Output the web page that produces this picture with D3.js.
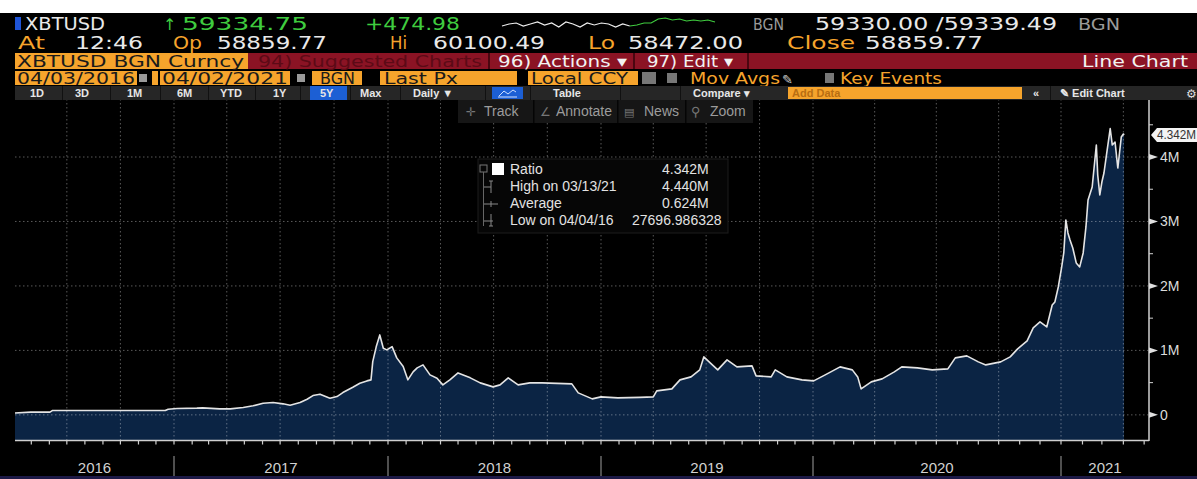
<!DOCTYPE html>
<html>
<head>
<meta charset="utf-8">
<script src="https://cdn.jsdelivr.net/npm/d3@7"></script>
<style>
body{margin:0;background:#000;overflow:hidden}
</style>
</head>
<body>
<div id="chart"></div>
<script>
//* data (ratio in millions)
var dates = ["2016-04-03","2016-04-30","2016-06-02","2016-06-06","2016-12-17","2016-12-22",
  "2017-01-06","2017-02-09","2017-02-19","2017-03-20","2017-04-07","2017-04-29","2017-05-16","2017-06-02","2017-06-19","2017-07-06","2017-07-18","2017-08-04","2017-08-16","2017-08-26","2017-09-07","2017-09-24","2017-10-06","2017-10-16","2017-11-02","2017-11-14","2017-11-26","2017-12-03","2017-12-06","2017-12-12","2017-12-18","2017-12-24","2017-12-30",
  "2018-01-08","2018-01-16","2018-01-27","2018-02-04","2018-02-13","2018-02-20","2018-03-02","2018-03-14","2018-03-26","2018-04-05","2018-04-17","2018-05-01","2018-05-22","2018-06-08","2018-06-30","2018-07-12","2018-07-26","2018-08-12","2018-09-01","2018-09-22","2018-11-12","2018-11-23","2018-12-17",
  "2019-01-01","2019-01-30","2019-03-09","2019-04-01","2019-04-07","2019-05-03","2019-05-17","2019-06-05","2019-06-20","2019-06-27","2019-07-08","2019-07-21","2019-08-06","2019-08-23","2019-09-18","2019-09-25","2019-10-21","2019-10-28","2019-11-17","2019-12-13",
  "2020-01-02","2020-01-19","2020-02-10","2020-02-28","2020-03-07","2020-03-12","2020-03-27","2020-04-12","2020-04-30","2020-05-11","2020-06-03","2020-06-25","2020-07-18","2020-07-29","2020-08-15","2020-09-01","2020-09-12","2020-10-04","2020-10-18","2020-10-29","2020-11-12","2020-11-21","2020-12-01","2020-12-11","2020-12-19","2020-12-23","2020-12-28",
  "2021-01-02","2021-01-05","2021-01-08","2021-01-11","2021-01-14","2021-01-18","2021-01-23","2021-01-28","2021-02-02","2021-02-06","2021-02-09","2021-02-15","2021-02-21","2021-02-23","2021-02-26","2021-03-01","2021-03-04","2021-03-08","2021-03-13","2021-03-16","2021-03-20","2021-03-24","2021-03-29","2021-04-01","2021-04-02"]
var ratio = [0.028,0.042,0.042,0.067,0.067,0.088,
  0.098,0.104,0.109,0.093,0.093,0.113,0.140,0.181,0.191,0.171,0.150,0.191,0.243,0.299,0.321,0.259,0.284,0.346,0.429,0.491,0.527,0.543,0.826,1.059,1.240,1.034,1.008,
  1.059,0.884,0.749,0.543,0.667,0.729,0.775,0.620,0.569,0.465,0.543,0.651,0.574,0.496,0.434,0.465,0.574,0.465,0.496,0.496,0.481,0.341,0.248,
  0.279,0.264,0.271,0.279,0.372,0.403,0.543,0.589,0.698,0.899,0.806,0.698,0.853,0.744,0.760,0.605,0.589,0.698,0.589,0.543,
  0.527,0.620,0.744,0.698,0.589,0.403,0.512,0.558,0.667,0.744,0.729,0.698,0.713,0.884,0.915,0.822,0.775,0.822,0.899,1.023,1.147,1.349,1.442,1.364,1.705,1.752,1.984,
  2.295,2.512,3.023,2.822,2.713,2.589,2.357,2.295,2.512,2.915,3.333,3.535,4.186,3.721,3.411,3.612,3.752,4.062,4.440,4.186,4.233,3.829,4.310,4.357,4.342]

var yTicks = [0, 1, 2, 3, 4]
var yMinor = [0.5, 1.5, 2.5, 3.5, 4.5]
var years = ["2016", "2017", "2018", "2019", "2020", "2021"]
var statAverage = 0.624
var statLow = "27696.986328"
var statLowDate = "04/04/16"

// intraday sparkline in the header (price), white part then green part
var sparkPx = [58653,59015,59196,58653,59015,59377,58834,59196,58472,59377,59015,58472,59196,58834,59196,59015,58472,59015,58653,
  58834,59196,59196,59920,60100,59739,59920,59558,59739,59558,59739,59377]
var sparkSplit = 18

var W = 1197, H = 479
var HEAD = "'DejaVu Sans', Verdana, sans-serif"
var SANS = "'Liberation Sans', Arial, sans-serif"
var ORANGE = "#f6a42c", WHITE = "#e9e9e9", GREEN = "#3fcc3f", GRAY = "#9a9a9a"

var svg = d3.select("#chart").append("svg")
  .attr("width", W).attr("height", H)
  .style("display", "block")
  .style("background", "#000")

function txt(x, y, s, o) {
  o = o || {}
  var t = svg.append("text")
    .attr("x", x).attr("y", y).text(s)
    .attr("fill", o.fill || WHITE)
    .attr("font-size", o.size || 16)
    .attr("font-family", o.font || HEAD)
  if (o.w) t.attr("textLength", o.w).attr("lengthAdjust", "spacingAndGlyphs")
  if (o.weight) t.attr("font-weight", o.weight)
  if (o.anchor) t.attr("text-anchor", o.anchor)
  return t
}
function box(x, y, w, h, fill) {
  return svg.append("rect").attr("x", x).attr("y", y).attr("width", w).attr("height", h).attr("fill", fill)
}

//* scales (bloomberg squeezes the older years a bit, so the time scale is piecewise)
var parse = d3.timeParse("%Y-%m-%d")
var data = dates.map(function(d, i){ return {date: parse(d), v: ratio[i]} })

var x = d3.scaleTime()
  .domain([parse("2016-04-03"), parse("2017-01-01"), parse("2018-01-01"), parse("2019-01-01"), parse("2020-01-01"), parse("2021-01-01"), parse("2021-05-08")])
  .range([15, 174, 388, 601, 813, 1061, 1149])
var y = d3.scaleLinear().domain([-0.39, 4.9]).range([440, 99])

var x0 = x.range()[0], x1 = x.range()[x.range().length - 1]

//* area + grid + line
svg.append("path")
  .datum(data)
  .attr("fill", "#0b2444")
  .attr("d", d3.area().x(function(d){ return x(d.date) }).y0(y(-0.39)).y1(function(d){ return y(d.v) }))

var quarters = d3.timeMonth.range(parse("2016-04-04"), parse("2021-05-08")).filter(function(d){ return d.getMonth() % 3 == 0 })
svg.append("g").selectAll("line").data(quarters).enter().append("line")
  .attr("x1", function(d){ return x(d) }).attr("x2", function(d){ return x(d) })
  .attr("y1", y(4.9)).attr("y2", y(-0.39))
  .attr("stroke", "#fff").attr("stroke-opacity", 0.35).attr("stroke-dasharray", "1.5,2.5")
svg.append("g").selectAll("line").data(yTicks).enter().append("line")
  .attr("x1", x0).attr("x2", x1)
  .attr("y1", function(d){ return y(d) }).attr("y2", function(d){ return y(d) })
  .attr("stroke", "#fff").attr("stroke-opacity", 0.35).attr("stroke-dasharray", "1.5,2.5")

svg.append("path")
  .datum(data)
  .attr("fill", "none")
  .attr("stroke", "#e4e4e4")
  .attr("stroke-width", 1.6)
  .attr("stroke-linejoin", "round")
  .attr("d", d3.line().x(function(d){ return x(d.date) }).y(function(d){ return y(d.v) }))

//* x axis: baseline, monthly ticks, year bands
svg.append("line").attr("x1", x0).attr("x2", x1).attr("y1", 440.5).attr("y2", 440.5)
  .attr("stroke", "#cfcfcf").attr("stroke-width", 1.5)
var months = d3.timeMonth.range(parse("2016-04-04"), parse("2021-05-08"))
svg.append("g").selectAll("line").data(months).enter().append("line")
  .attr("x1", function(d){ return x(d) }).attr("x2", function(d){ return x(d) })
  .attr("y1", 440).attr("y2", 444.5)
  .attr("stroke", "#cfcfcf").attr("stroke-width", 1.2)

years.forEach(function(yr, i) {
  var a = Math.max(x0, x(parse(yr + "-01-01")))
  var b = i < years.length - 1 ? x(parse(years[i+1] + "-01-01")) : x1
  if (i > 0) svg.append("line").attr("x1", a).attr("x2", a).attr("y1", 456).attr("y2", 477)
    .attr("stroke", "#7a7a7a").attr("stroke-width", 1.3)
  txt((a + b) / 2, 473, yr, {font: SANS, size: 15, fill: "#d2d2d2", anchor: "middle"})
})

//* right axis
svg.append("line").attr("x1", x1).attr("x2", x1).attr("y1", y(4.9)).attr("y2", 441)
  .attr("stroke", "#d0d0d0").attr("stroke-width", 1.5)
svg.append("g").selectAll("line").data(yMinor).enter().append("line")
  .attr("x1", x1).attr("x2", x1 + 4)
  .attr("y1", function(d){ return y(d) }).attr("y2", function(d){ return y(d) })
  .attr("stroke", "#d0d0d0")
svg.append("g").selectAll("path").data(yTicks).enter().append("path")
  .attr("d", function(d){ var t = y(d); return "M" + x1 + "," + (t - 3) + "L" + (x1 + 9) + "," + t + "L" + x1 + "," + (t + 3) + "Z" })
  .attr("fill", "#e0e0e0")
yTicks.forEach(function(d) {
  txt(x1 + 11, y(d) + 5, d == 0 ? "0" : d + "M", {font: SANS, size: 14, fill: "#dcdcdc"})
})

// last value flag
var last = data[data.length - 1]
var ly = y(last.v)
svg.append("path")
  .attr("d", "M" + (x1 + 2) + "," + ly + "L" + (x1 + 8) + "," + (ly - 7) + "H" + W + "V" + (ly + 7) + "H" + (x1 + 8) + "Z")
  .attr("fill", "#f4f4f4")
txt(x1 + 8, ly + 4.5, d3.format(".3f")(last.v) + "M", {font: SANS, size: 12, fill: "#333", w: 39})

//* legend box
var hi = data.reduce(function(a, b){ return b.v > a.v ? b : a })
box(478, 159, 250, 74, "#060606").attr("stroke", "#1c1c1c")
svg.append("rect").attr("x", 480).attr("y", 165).attr("width", 7).attr("height", 7).attr("fill", "none").attr("stroke", "#777")
svg.append("line").attr("x1", 483.5).attr("x2", 483.5).attr("y1", 172).attr("y2", 226).attr("stroke", "#666")
box(492, 163, 12, 12, "#fff")
var rowsY = [174, 191, 208, 225]
// small tree glyphs
svg.append("path").attr("d", "M484,187H491M489,181H493M491,181V193").attr("stroke", "#888").attr("fill", "none")
svg.append("path").attr("d", "M484,204H498M491,201V207").attr("stroke", "#888").attr("fill", "none")
svg.append("path").attr("d", "M484,221H493M491,214V226M489,226H493").attr("stroke", "#888").attr("fill", "none")
var LEG = {font: SANS, size: 14, fill: "#e2e2e2"}
txt(510, rowsY[0], "Ratio", LEG)
txt(662, rowsY[0], d3.format(".3f")(last.v) + "M", LEG)
txt(510, rowsY[1], "High on " + d3.timeFormat("%m/%d/%y")(hi.date), LEG)
txt(662, rowsY[1], d3.format(".3f")(hi.v) + "M", LEG)
txt(510, rowsY[2], "Average", LEG)
txt(662, rowsY[2], d3.format(".3f")(statAverage) + "M", LEG)
txt(510, rowsY[3], "Low on " + statLowDate, LEG)
txt(632, rowsY[3], statLow, LEG)

//* chart toolbar (Track / Annotate / News / Zoom)
box(458, 100, 295, 23, "#161616")
;[533, 617, 685].forEach(function(s){ box(s, 100, 1.5, 23, "#050505") })
var TB = {font: SANS, size: 14, fill: "#9c9c9c"}
txt(466, 116, "✛", {font: HEAD, size: 12, fill: "#777"}); txt(484, 116, "Track", TB)
txt(540, 116, "∠", {font: HEAD, size: 12, fill: "#777"}); txt(556, 116, "Annotate", TB)
txt(624, 116, "▤", {font: HEAD, size: 11, fill: "#777"}); txt(644, 116, "News", TB)
txt(691, 116, "⚲", {font: HEAD, size: 13, fill: "#777"}); txt(710, 116, "Zoom", TB)

//* header
box(0, 0, W, 13, "#fff")
// row 1
box(15, 17, 6, 13, "#1f55d8")
txt(25, 30, "XBTUSD", {w: 80, size: 18})
txt(163, 30, "↑", {fill: GREEN, size: 16})
txt(182, 30, "59334.75", {w: 126, size: 18, fill: GREEN})
txt(365, 30, "+474.98", {w: 95, size: 18, fill: GREEN})
var sx = d3.scaleLinear().domain([0, sparkPx.length - 1]).range([502, 715])
var sy = d3.scaleLinear().domain([58472, 60100]).range([27, 18])
var sl = d3.line().x(function(d, i){ return sx(d.i) }).y(function(d){ return sy(d.p) })
var sp = sparkPx.map(function(p, i){ return {p: p, i: i} })
svg.append("path").attr("d", sl(sp.slice(0, sparkSplit + 1))).attr("stroke", "#eee").attr("fill", "none").attr("stroke-width", 1.2)
svg.append("path").attr("d", sl(sp.slice(sparkSplit))).attr("stroke", GREEN).attr("fill", "none").attr("stroke-width", 1.2)
txt(753, 30, "BGN", {w: 31, size: 16, fill: GRAY})
txt(815, 30, "59330.00 /59339.49", {w: 242, size: 18})
txt(1078, 30, "BGN", {w: 42, size: 16, fill: GRAY})
// row 2
txt(18, 49, "At", {w: 27, size: 18, fill: ORANGE})
txt(75, 49, "12:46", {w: 68, size: 18})
txt(173, 49, "Op", {w: 29, size: 18, fill: ORANGE})
txt(217, 49, "58859.77", {w: 110, size: 18})
txt(390, 49, "Hi", {w: 17, size: 18, fill: ORANGE})
txt(433, 49, "60100.49", {w: 112, size: 18})
txt(588, 49, "Lo", {w: 27, size: 18, fill: ORANGE})
txt(628, 49, "58472.00", {w: 115, size: 18})
txt(787, 49, "Close", {w: 68, size: 18, fill: ORANGE})
txt(865, 49, "58859.77", {w: 118, size: 18})
// row 3
box(15, 53, 233, 16, ORANGE)
txt(17, 67, "XBTUSD BGN Curncy", {w: 227, size: 16, fill: "#1a1a1a"})
box(248, 53, W - 248, 16, "#8b1324")
txt(258, 67, "94) Suggested Charts", {w: 224, size: 16, fill: "#5c0a16"})
;[488, 633, 747].forEach(function(s){ box(s, 53, 2, 16, "#4a0610") })
txt(498, 67, "96) Actions ▾", {w: 129, size: 16, fill: "#f2f2f2"})
txt(647, 67, "97) Edit ▾", {w: 86, size: 16, fill: "#f2f2f2"})
txt(1082, 67, "Line Chart", {w: 106, size: 16, fill: "#f2f2f2"})
// row 4
var R4 = {size: 15, fill: "#1a1a1a"}
box(15, 71, 122, 14, ORANGE); txt(17, 84, "04/03/2016", Object.assign({w: 118}, R4))
box(139, 74, 8, 8, "#9a9a9a")
box(152, 71, 6, 14, ORANGE)
box(160, 71, 130, 14, ORANGE); txt(162, 84, "04/02/2021", Object.assign({w: 126}, R4))
box(297, 74, 8, 8, "#9a9a9a")
box(312, 71, 50, 14, ORANGE); txt(320, 84, "BGN", Object.assign({w: 35}, R4))
box(380, 71, 137, 14, ORANGE); txt(384, 84, "Last Px", Object.assign({w: 74}, R4))
box(528, 71, 110, 14, ORANGE); txt(531, 84, "Local CCY", Object.assign({w: 97}, R4))
box(642, 72, 14, 12, "#777")
box(667, 73, 10, 10, "#777")
txt(690, 84, "Mov Avgs", {w: 90, size: 15, fill: ORANGE})
txt(782, 84, "✎", {size: 13, fill: "#ccc"})
box(825, 73, 9, 10, "#777")
txt(840, 84, "Key Events", {w: 102, size: 15, fill: ORANGE})
// row 5 tabs
box(15, 86, W - 15, 14, "#262626")
var TAB = {font: SANS, size: 11, weight: "bold", fill: "#e6e6e6"}
box(310, 86, 37, 14, "#1c5fd4")
;[["1D", 30], ["3D", 75], ["1M", 127], ["6M", 177], ["YTD", 220], ["1Y", 273], ["5Y", 320], ["Max", 360], ["Daily ▼", 413], ["Table", 553], ["Compare ▾", 693]]
  .forEach(function(t){ txt(t[1], 97, t[0], TAB) })
;[62, 110, 160, 208, 255, 300, 350, 400, 485, 530, 620, 680].forEach(function(s){ box(s, 86, 1, 14, "#111") })
box(492, 87, 31, 12, "#1c5fd4")
svg.append("path").attr("d", "M499,96L504,91L508,94L513,90L516,92M498,97H517").attr("stroke", "#cfe0ff").attr("fill", "none")
box(788, 87, 234, 12, ORANGE)
txt(792, 97, "Add Data", {font: SANS, size: 11, weight: "bold", fill: "#b86e12"})
txt(1033, 97, "«", TAB)
box(1050, 86, 1, 14, "#111")
txt(1060, 97, "✎ Edit Chart", TAB)
txt(1186, 98, "⚙", {size: 12, fill: "#ddd"})

//* bottom strip
box(0, 476, W, 3, "#1c1946")
</script>
</body>
</html>
